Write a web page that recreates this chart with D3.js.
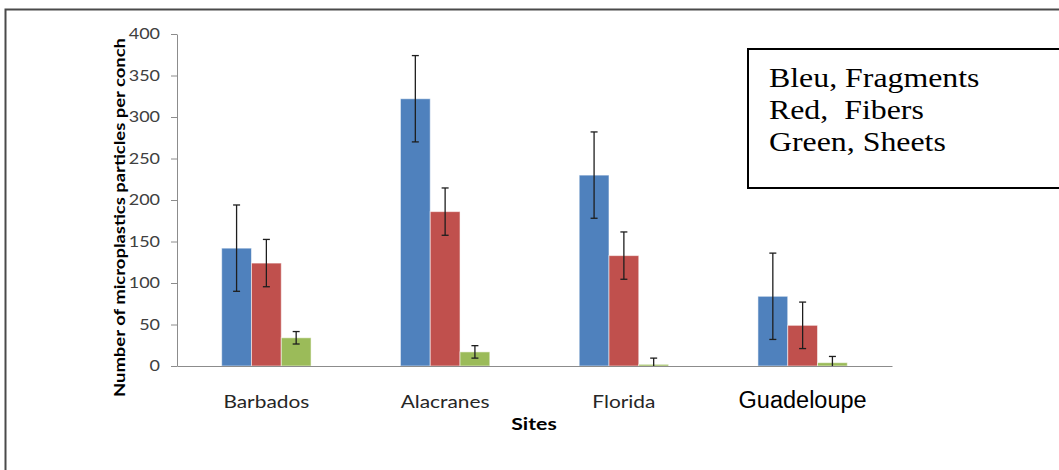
<!DOCTYPE html>
<html>
<head>
<meta charset="utf-8">
<script src="https://cdn.jsdelivr.net/npm/d3@7"></script>
<style>
body { margin: 0; background: #fff; }
</style>
</head>
<body>
<div id="chart"></div>
<script>
var sites = ["Barbados", "Alacranes", "Florida", "Guadeloupe"];
var seriesNames = ["Fragments", "Fibers", "Sheets"];
var fragments = [142, 322, 230, 84];
var fibers = [124, 186, 133, 49];
var sheets = [34, 17, 2, 4];
var fragmentsErr = [52, 52, 52, 52];
var fibersErr = [28.5, 28.5, 28.5, 28];
var sheetsErr = [7.5, 7.5, 7.5, 7.5];
var yTicks = [0, 50, 100, 150, 200, 250, 300, 350, 400];
var legendLines = ["Bleu, Fragments", "Red,\u00a0 Fibers", "Green, Sheets"];

var colors = ["#4f81bd", "#c0504d", "#9bbb59"];
var values = [fragments, fibers, sheets];
var errors = [fragmentsErr, fibersErr, sheetsErr];

var width = 1059, height = 470;
var stretch = 1.18; // the original picture is pulled wider than tall

var svg = d3.select("#chart")
	.append("svg")
	.attr("width", width)
	.attr("height", height);

// outer frame, runs off the right and bottom edge
svg.append("rect")
	.attr("x", 5.5)
	.attr("y", 9.5)
	.attr("width", 1200)
	.attr("height", 600)
	.style("fill", "#fff")
	.style("stroke", "#4a4a4a")
	.style("stroke-width", 2);

var x = d3.scaleBand()
	.domain(sites)
	.range([177, 892])
	.paddingInner(0.5)
	.paddingOuter(0.25);

var xSub = d3.scaleBand()
	.domain(seriesNames)
	.range([0, x.bandwidth()]);

var y = d3.scaleLinear()
	.domain([0, 400])
	.range([366, 34]);

// flatten into one row per bar
var bars = [];
sites.forEach(function(site, i) {
	seriesNames.forEach(function(s, j) {
		bars.push({site: site, series: s, value: values[j][i], err: errors[j][i], color: colors[j]});
	});
});

var yAxis = svg.append("g")
	.attr("transform", "translate(177,0)")
	.call(d3.axisLeft(y).tickValues(yTicks).tickSize(6).tickSizeOuter(0).tickPadding(11));
yAxis.select(".domain").style("stroke", "#8c8c8c");
yAxis.selectAll(".tick line").style("stroke", "#8c8c8c");
yAxis.selectAll(".tick text")
	.attr("x", -17 / 1.2)
	.attr("transform", "scale(1.2,1)")
	.style("font-family", "Lato")
	.style("font-size", "15px")
	.style("fill", "#404040");

svg.selectAll(".bar")
	.data(bars)
	.enter().append("rect")
	.attr("class", "bar")
	.attr("x", function(d) { return x(d.site) + xSub(d.series); })
	.attr("y", function(d) { return y(d.value); })
	.attr("width", xSub.bandwidth())
	.attr("height", function(d) { return y(0) - y(d.value); })
	.style("fill", function(d) { return d.color; })
	.style("stroke", "rgba(255,255,255,0.55)")
	.style("stroke-width", 1);

var xAxis = svg.append("g")
	.attr("transform", "translate(0,366)")
	.call(d3.axisBottom(x).tickSize(0).tickPadding(29));
xAxis.select(".domain").style("stroke", "#8c8c8c");
xAxis.selectAll(".tick text")
	.attr("transform", "scale(1.16,1)")
	.style("font-family", "Lato")
	.style("font-size", "18px")
	.style("fill", "#262626");
// the last label was typed in another font
xAxis.selectAll(".tick text")
	.filter(function(d) { return d == "Guadeloupe"; })
	.attr("transform", null)
	.attr("dy", "13px")
	.style("font-family", "Liberation Sans")
	.style("font-size", "23.5px")
	.style("fill", "#000");

// error bars
var eb = svg.selectAll(".err")
	.data(bars)
	.enter().append("g")
	.attr("class", "err")
	.style("stroke", "#1e1e1e")
	.style("stroke-width", 1.3);
function cx(d) { return x(d.site) + xSub(d.series) + xSub.bandwidth() / 2; }
function lo(d) { return y(Math.max(0, d.value - d.err)); }
function hi(d) { return y(d.value + d.err); }
eb.append("line")
	.attr("x1", cx).attr("x2", cx)
	.attr("y1", hi).attr("y2", lo);
eb.append("line")
	.attr("x1", function(d) { return cx(d) - 3.5; })
	.attr("x2", function(d) { return cx(d) + 3.5; })
	.attr("y1", hi).attr("y2", hi);
eb.filter(function(d) { return d.value - d.err > 0; })
	.append("line")
	.attr("x1", function(d) { return cx(d) - 3.5; })
	.attr("x2", function(d) { return cx(d) + 3.5; })
	.attr("y1", lo).attr("y2", lo);

// axis titles
svg.append("text")
	.attr("transform", "translate(125,217.5) rotate(-90)")
	.attr("text-anchor", "middle")
	.attr("textLength", 359)
	.attr("lengthAdjust", "spacingAndGlyphs")
	.style("font-family", "Lato")
	.style("font-weight", "bold")
	.style("font-size", "15px")
	.text("Number of microplastics particles per conch");

svg.append("text")
	.attr("transform", "translate(534,430) scale(1.25,1)")
	.attr("text-anchor", "middle")
	.style("font-family", "Lato")
	.style("font-weight", "bold")
	.style("font-size", "17px")
	.text("Sites");

// legend box
svg.append("rect")
	.attr("x", 748)
	.attr("y", 49)
	.attr("width", 400)
	.attr("height", 139)
	.style("fill", "#fff")
	.style("stroke", "#000")
	.style("stroke-width", 2);

svg.selectAll(".leg")
	.data(legendLines)
	.enter().append("text")
	.attr("class", "leg")
	.attr("transform", function(d, i) { return "translate(769," + (87 + i * 32) + ") scale(" + stretch + ",1)"; })
	.style("font-family", "Liberation Serif")
	.style("font-size", "27px")
	.text(function(d) { return d; });
</script>
</body>
</html>
